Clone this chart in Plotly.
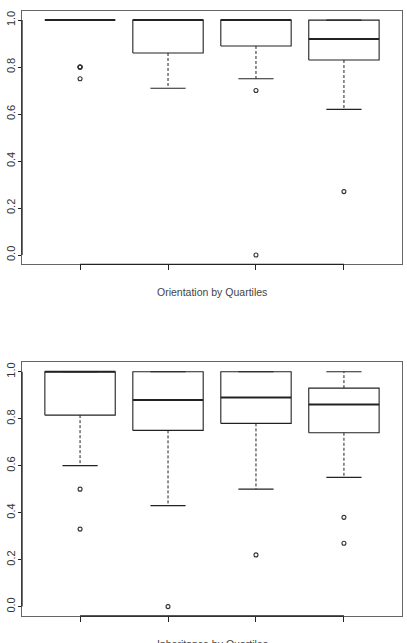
import plotly.graph_objects as go

# ---- data ----
groups = [1, 2, 3, 4]

orient_lo = [1.0, 0.71, 0.75, 0.62]
orient_q1 = [1.0, 0.86, 0.89, 0.83]
orient_med = [1.0, 1.0, 1.0, 0.92]
orient_q3 = [1.0, 1.0, 1.0, 1.0]
orient_hi = [1.0, 1.0, 1.0, 1.0]
orient_out = [[0.8, 0.8, 0.8, 0.75], [], [0.70, 0.0], [0.27]]

inherit_lo = [0.60, 0.43, 0.50, 0.55]
inherit_q1 = [0.815, 0.75, 0.78, 0.74]
inherit_med = [1.0, 0.88, 0.89, 0.86]
inherit_q3 = [1.0, 1.0, 1.0, 0.93]
inherit_hi = [1.0, 1.0, 1.0, 1.0]
inherit_out = [[0.5, 0.33], [0.0], [0.22], [0.38, 0.27]]

titles = ["Orientation by Quartiles", "Inheritance by Quartiles"]
y_ticks = [0.0, 0.2, 0.4, 0.6, 0.8, 1.0]

BOXW = 0.4
CAPW = 0.2
LINE = "#222222"
FRAME = "#666666"

W, H = 407, 643
fig = go.Figure()


def add_panel(fig, ax, lo, q1, med, q3, hi, outs):
    xa = "x" if ax == 1 else f"x{ax}"
    ya = "y" if ax == 1 else f"y{ax}"
    for i, g in enumerate(groups):
        # dashed whiskers
        fig.add_trace(go.Scatter(x=[g, g, None, g, g],
                                 y=[q1[i], lo[i], None, q3[i], hi[i]],
                                 mode="lines", xaxis=xa, yaxis=ya,
                                 line=dict(color=LINE, width=1, dash="3px,2px"),
                                 hoverinfo="skip", showlegend=False))
        # caps
        fig.add_trace(go.Scatter(x=[g - CAPW, g + CAPW, None, g - CAPW, g + CAPW],
                                 y=[lo[i], lo[i], None, hi[i], hi[i]],
                                 mode="lines", xaxis=xa, yaxis=ya,
                                 line=dict(color=LINE, width=1.1),
                                 hoverinfo="skip", showlegend=False))
        # box
        fig.add_trace(go.Scatter(x=[g - BOXW, g + BOXW, g + BOXW, g - BOXW, g - BOXW],
                                 y=[q1[i], q1[i], q3[i], q3[i], q1[i]],
                                 mode="lines", xaxis=xa, yaxis=ya,
                                 line=dict(color=LINE, width=1.1),
                                 hoverinfo="skip", showlegend=False))
        # median
        fig.add_trace(go.Scatter(x=[g - BOXW, g + BOXW],
                                 y=[med[i], med[i]],
                                 mode="lines", xaxis=xa, yaxis=ya,
                                 line=dict(color=LINE, width=2),
                                 hoverinfo="skip", showlegend=False))
        # outliers
        if outs[i]:
            fig.add_trace(go.Scatter(x=[g] * len(outs[i]), y=outs[i],
                                     mode="markers", xaxis=xa, yaxis=ya,
                                     marker=dict(symbol="circle-open", size=4,
                                                 color="#333333",
                                                 line=dict(width=1.1)),
                                     hoverinfo="skip", showlegend=False))


add_panel(fig, 1, orient_lo, orient_q1, orient_med, orient_q3, orient_hi, orient_out)
add_panel(fig, 2, inherit_lo, inherit_q1, inherit_med, inherit_q3, inherit_hi, inherit_out)

x_dom = [22 / W, 402 / W]
y_dom1 = [(H - 264.4) / H, (H - 10.7) / H]
y_dom2 = [(H - 616) / H, (H - 362.3) / H]

xcommon = dict(range=[0.34, 4.66], showgrid=False, zeroline=False,
               showline=True, mirror=True, linecolor=FRAME, linewidth=1,
               tickmode="array", tickvals=groups, ticktext=["", "", "", ""],
               ticks="outside", ticklen=5, tickcolor="#222", tickwidth=1,
               domain=x_dom, fixedrange=True)
ycommon = dict(range=[-0.04, 1.04], showgrid=False, zeroline=False,
               showline=True, mirror=True, linecolor=FRAME, linewidth=1,
               tickmode="array", tickvals=y_ticks,
               ticktext=[f"{v:.1f}" for v in y_ticks],
               ticks="outside", ticklen=3, tickcolor="#222", tickwidth=1,
               tickangle=-90, ticklabelstandoff=-1,
               tickfont=dict(family="Liberation Sans, Arial", size=11, color="#333"),
               fixedrange=True)

fig.update_layout(
    width=W, height=H, autosize=False,
    margin=dict(l=0, r=0, t=0, b=0),
    paper_bgcolor="white", plot_bgcolor="white",
    xaxis=dict(**xcommon, anchor="y"),
    yaxis=dict(**ycommon, domain=y_dom1, anchor="x"),
    xaxis2=dict(**xcommon, anchor="y2"),
    yaxis2=dict(**ycommon, domain=y_dom2, anchor="x2"),
)

# R-style axis lines (axis segment from first to last tick / 0 to 1)
for xr, yr in [("x", "y"), ("x2", "y2")]:
    fig.add_shape(type="line", xref=xr, yref=f"{yr} domain",
                  x0=groups[0], x1=groups[-1], y0=0, y1=0,
                  line=dict(color="#222", width=1.3))
    fig.add_shape(type="line", xref=f"{xr} domain", yref=yr,
                  x0=0, x1=0, y0=y_ticks[0], y1=y_ticks[-1],
                  line=dict(color="#222", width=1.3))

for xr, yr, t in [("x", "y", titles[0]), ("x2", "y2", titles[1])]:
    fig.add_annotation(text=t, xref=f"{xr} domain", yref=f"{yr} domain",
                       x=0.5, y=0, yshift=-28, showarrow=False,
                       xanchor="center", yanchor="middle",
                       font=dict(family="Liberation Sans, Arial", size=10.5, color="#444"))

fig.write_html("out.html")
